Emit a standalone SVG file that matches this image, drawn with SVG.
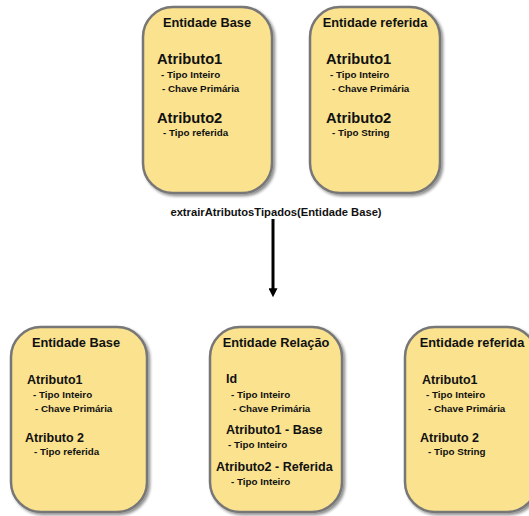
<svg xmlns="http://www.w3.org/2000/svg" width="529" height="516" viewBox="0 0 529 516">
<defs>
<filter id="sh" x="-10%" y="-10%" width="125%" height="125%">
<feGaussianBlur in="SourceAlpha" stdDeviation="1.5"/>
<feOffset dx="1.5" dy="2" result="b"/>
<feComponentTransfer><feFuncA type="linear" slope="0.45"/></feComponentTransfer>
<feMerge><feMergeNode/><feMergeNode in="SourceGraphic"/></feMerge>
</filter>
<marker id="ah" viewBox="0 0 10 10" refX="2" refY="5" markerWidth="3" markerHeight="3" orient="auto"><path d="M0,0 L10,5 L0,10 z" fill="#000"/></marker>
</defs>
<style>
.box{fill:#fae28f;stroke:#777;stroke-width:2.5;filter:url(#sh)}
text{font-family:"Liberation Sans",Arial,sans-serif;font-weight:bold;fill:#111}
.t{font-size:12.8px;text-anchor:middle}
.a{font-size:14.7px}
.b{font-size:12.5px}
.s{font-size:9.8px}
.l{font-size:11.2px;text-anchor:middle}
</style>
<rect width="529" height="516" fill="#fff"/>
<g id="top-base">
<rect class="box" x="143" y="7" width="129" height="186" rx="30"/>
<text class="t" x="207" y="27">Entidade Base</text>
<text class="a" x="157" y="64">Atributo1</text>
<text class="s" x="161" y="78">- Tipo Inteiro</text>
<text class="s" x="162" y="92">- Chave Primária</text>
<text class="a" x="157" y="123">Atributo2</text>
<text class="s" x="163" y="136">- Tipo referida</text>
</g>
<g id="top-ref">
<rect class="box" x="310" y="7" width="130" height="186" rx="30"/>
<text class="t" x="375" y="27">Entidade referida</text>
<text class="a" x="326" y="64">Atributo1</text>
<text class="s" x="330" y="78">- Tipo Inteiro</text>
<text class="s" x="332" y="92">- Chave Primária</text>
<text class="a" x="326" y="123">Atributo2</text>
<text class="s" x="332" y="136">- Tipo String</text>
</g>
<g id="connectors">
<text class="l" x="276" y="216">extrairAtributosTipados(Entidade Base)</text>
<line x1="273" y1="219" x2="273" y2="290" stroke="#000" stroke-width="3" marker-end="url(#ah)"/>
</g>
<g id="bot-base">
<rect class="box" x="11" y="327" width="136" height="185" rx="30"/>
<text class="t" x="76" y="347">Entidade Base</text>
<text class="b" x="27" y="384">Atributo1</text>
<text class="s" x="33" y="398">- Tipo Inteiro</text>
<text class="s" x="35" y="412">- Chave Primária</text>
<text class="b" x="25" y="442">Atributo 2</text>
<text class="s" x="34" y="455">- Tipo referida</text>
</g>
<g id="bot-rel">
<rect class="box" x="210" y="327" width="132" height="185" rx="30"/>
<text class="t" x="276" y="347">Entidade Relação</text>
<text class="b" x="226" y="383">Id</text>
<text class="s" x="231" y="398">- Tipo Inteiro</text>
<text class="s" x="233" y="412">- Chave Primária</text>
<text class="b" x="226" y="434">Atributo1 - Base</text>
<text class="s" x="228" y="448">- Tipo Inteiro</text>
<text class="b" x="216" y="471">Atributo2 - Referida</text>
<text class="s" x="231" y="485">- Tipo Inteiro</text>
</g>
<g id="bot-ref">
<rect class="box" x="405" y="327" width="132" height="185" rx="30"/>
<text class="t" x="472" y="347">Entidade referida</text>
<text class="b" x="422" y="384">Atributo1</text>
<text class="s" x="426" y="398">- Tipo Inteiro</text>
<text class="s" x="428" y="412">- Chave Primária</text>
<text class="b" x="420" y="442">Atributo 2</text>
<text class="s" x="428" y="455">- Tipo String</text>
</g>
</svg>
